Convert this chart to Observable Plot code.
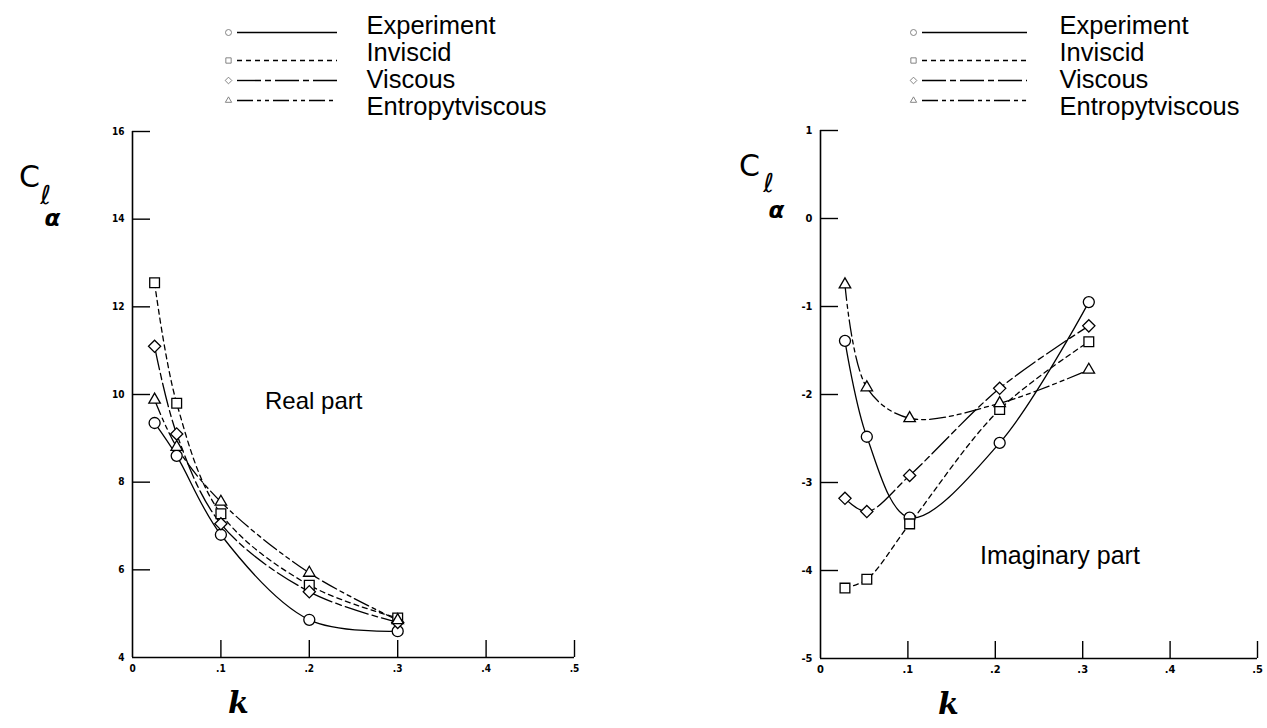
<!DOCTYPE html>
<html><head><meta charset="utf-8">
<script src="https://cdn.jsdelivr.net/npm/d3@7"></script>
<script src="https://cdn.jsdelivr.net/npm/@observablehq/plot@0.6"></script>
<style>
body{margin:0;background:#fff;}
#chart{position:relative;width:1267px;height:728px;overflow:hidden;background:#fff;}
#chart svg{position:absolute;overflow:visible;background:transparent;}
</style></head><body><div id="chart"></div>
<script>
// ---------- data ----------
const seriesNames = ["Experiment", "Inviscid", "Viscous", "Entropytviscous"];

const kReal = [0.025, 0.05, 0.1, 0.2, 0.3];
const experimentReal = [9.35, 8.6, 6.8, 4.86, 4.6];
const inviscidReal   = [12.55, 9.8, 7.28, 5.65, 4.9];
const viscousReal    = [11.1, 9.1, 7.05, 5.5, 4.8];
const entropyReal    = [9.88, 8.8, 7.55, 5.93, 4.85];

const kImag = [0.028, 0.053, 0.102, 0.205, 0.307];
const experimentImag = [-1.39, -2.48, -3.4, -2.55, -0.95];
const inviscidImag   = [-4.2, -4.1, -3.47, -2.17, -1.4];
const viscousImag    = [-3.18, -3.33, -2.92, -1.93, -1.22];
const entropyImag    = [-0.75, -1.92, -2.27, -2.1, -1.72];

const yTicksReal = [4, 6, 8, 10, 12, 14, 16];
const yTicksImag = [-5, -4, -3, -2, -1, 0, 1];
const xTicks = [0, 0.1, 0.2, 0.3, 0.4, 0.5];
const xTickLabels = ["0", ".1", ".2", ".3", ".4", ".5"];

const titleReal = [{label: "Real part", k: 0.205, v: 9.85}];
const titleImag = [{label: "Imaginary part", k: 0.274, v: -3.83}];

// ---------- styles ----------
const seriesSymbols = ["circle", "square", "diamond2", "triangle2"];
const seriesDash = [undefined, "5,4", "24,4,6,4", "16,4,4,4,4,4"];
const textFont = "Liberation Sans, Arial, Helvetica, sans-serif";
const tickFont = "Liberation Sans Narrow, DejaVu Sans Condensed, Liberation Sans, sans-serif";

function makeRows(k, seriesValues) {
  const rows = [];
  seriesValues.forEach((vals, i) => vals.forEach((v, j) => rows.push({series: seriesNames[i], k: k[j], v})));
  return rows;
}
const rowsReal = makeRows(kReal, [experimentReal, inviscidReal, viscousReal, entropyReal]);
const rowsImag = makeRows(kImag, [experimentImag, inviscidImag, viscousImag, entropyImag]);

const chart = document.getElementById("chart");

function panel(o) {
  const frameW = o.width - o.ml - o.mr;
  const frameH = o.height - o.mt - o.mb;
  const marks = [
    Plot.ruleX([0], {strokeWidth: 1.6}),
    Plot.ruleY([o.yDomain[0]], {strokeWidth: 1.6}),
    Plot.tickY(o.yTicks.slice(1), {y: d => d, insetRight: frameW - 18, strokeWidth: 1.4}),
    Plot.tickX(xTicks.slice(1), {x: d => d, insetTop: frameH - 17, strokeWidth: 1.4}),
    Plot.axisY(o.yTicks, {tickSize: 0, tickPadding: 8, label: null, tickFormat: d => String(d),
      fontSize: o.tickSize, fontWeight: "bold", fontFamily: tickFont}),
    Plot.axisX(xTicks, {tickSize: 0, tickPadding: 7, label: null,
      tickFormat: d => xTickLabels[xTicks.indexOf(d)],
      fontSize: o.tickSize, fontWeight: "bold", fontFamily: tickFont}),
    ...seriesNames.map((s, i) => Plot.line(o.rows.filter(r => r.series === s), {
      x: "k", y: "v", curve: "catmull-rom", stroke: "black", strokeWidth: 1.3,
      strokeDasharray: seriesDash[i]
    })),
    Plot.dot(o.rows, {x: "k", y: "v", symbol: "series", r: 5.5, fill: "white", stroke: "black", strokeWidth: 1.3}),
    Plot.text(o.title, {x: "k", y: "v", text: "label", fontSize: o.titleSize, fontFamily: textFont,
      textAnchor: "middle", lineAnchor: "middle", fill: "black"}),
    // y label C_lα
    Plot.text(["C"], {text: d => d, frameAnchor: "top-left", dx: o.cLab[0], dy: o.cLab[1], fontSize: 30,
      fontFamily: "DejaVu Sans, sans-serif", textAnchor: "middle", lineAnchor: "middle"}),
    Plot.text(["ℓ"], {text: d => d, frameAnchor: "top-left", dx: o.cLab[2], dy: o.cLab[3], fontSize: 26,
      fontStyle: "italic", fontFamily: "DejaVu Sans, sans-serif", textAnchor: "middle", lineAnchor: "middle"}),
    Plot.text(["α"], {text: d => d, frameAnchor: "top-left", dx: o.cLab[4], dy: o.cLab[5], fontSize: 23,
      fontStyle: "italic", fontWeight: "bold", fontFamily: "DejaVu Sans, sans-serif", textAnchor: "middle", lineAnchor: "middle"}),
    // x label k
    Plot.text(["k"], {text: d => d, frameAnchor: "bottom-left", dx: o.kLab[0], dy: o.kLab[1], fontSize: 30,
      fontStyle: "italic", fontWeight: "bold", fontFamily: "DejaVu Serif, serif", textAnchor: "middle", lineAnchor: "middle"})
  ];
  const svg = Plot.plot({
    width: o.width, height: o.height,
    marginLeft: o.ml, marginRight: o.mr, marginTop: o.mt, marginBottom: o.mb,
    x: {domain: [0, 0.5], axis: null},
    y: {domain: o.yDomain, axis: null},
    symbol: {domain: seriesNames, range: seriesSymbols},
    style: {fontFamily: textFont, background: "transparent", overflow: "visible"},
    marks
  });
  svg.style.left = o.left + "px";
  svg.style.top = "0px";
  chart.appendChild(svg);
}

function legend(o) {
  const legendLineY = [32, 60, 80, 100];
  const legendTextY = [25, 52, 79, 106];
  const rows = seriesNames.map((s, i) => ({series: s, ly: legendLineY[i], ty: legendTextY[i]}));
  const svg = Plot.plot({
    width: 400, height: 125, margin: 0,
    x: {domain: [0, 1], range: [o.lineStart, o.lineEnd], axis: null},
    y: {type: "identity", axis: null},
    symbol: {domain: seriesNames, range: seriesSymbols},
    style: {fontFamily: textFont, background: "transparent", overflow: "visible"},
    marks: [
      ...seriesNames.map((s, i) => Plot.ruleY([rows[i]], {y: "ly", x1: 0, x2: 1, stroke: "black",
        strokeWidth: 1.4, strokeDasharray: seriesDash[i]})),
      Plot.dot(rows, {x: 0, y: "ly", dx: -9, symbol: "series", r: 3, stroke: "#777", strokeWidth: 0.9, fill: "white"}),
      Plot.text(rows, {x: 1, y: "ty", dx: o.textDx, text: "series", textAnchor: "start", lineAnchor: "middle",
        fontSize: 25.5, fill: "black", fontFamily: textFont})
    ]
  });
  svg.style.left = o.left + "px";
  svg.style.top = "0px";
  chart.appendChild(svg);
}

panel({left: 0, width: 633, height: 728, ml: 132, mr: 59, mt: 131, mb: 71,
  rows: rowsReal, yDomain: [4, 16], yTicks: yTicksReal, title: titleReal, titleSize: 24, tickSize: 10,
  cLab: [-103, 46, -87, 64, -80, 87], kLab: [106, 46]});
panel({left: 633, width: 634, height: 728, ml: 187, mr: 10, mt: 130, mb: 70,
  rows: rowsImag, yDomain: [-5, 1], yTicks: yTicksImag, title: titleImag, titleSize: 25, tickSize: 11,
  cLab: [-71, 36, -52, 53, -44, 80], kLab: [128, 46]});
legend({left: 200, lineStart: 37, lineEnd: 137, textDx: 29});
legend({left: 880, lineStart: 42, lineEnd: 147, textDx: 32});
</script></body></html>
